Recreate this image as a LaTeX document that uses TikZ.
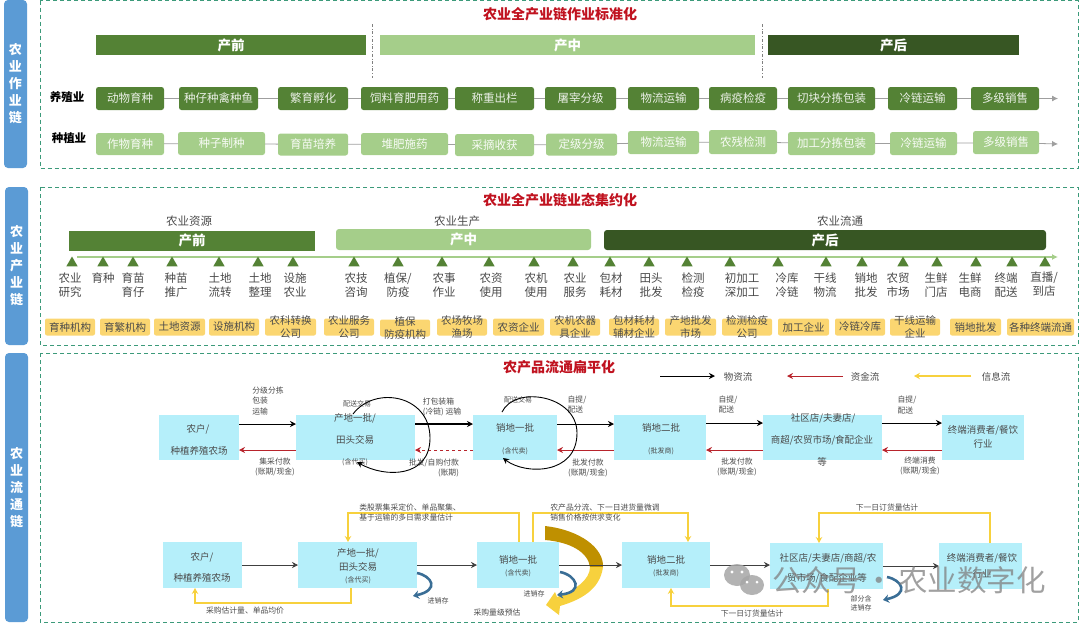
\documentclass[tikz,border=0pt]{standalone}
\usepackage{fontspec}
\setmainfont{Noto Sans CJK SC}
\usetikzlibrary{arrows.meta,shapes.geometric}
\definecolor{sidebar}{HTML}{5B9BD5}
\definecolor{framegreen}{HTML}{3C9A7A}
\definecolor{darkgreen}{HTML}{548235}
\definecolor{deepgreen}{HTML}{375623}
\definecolor{lightgreen}{HTML}{A5CE8A}
\definecolor{boxyellow}{HTML}{FBD671}
\definecolor{boxcyan}{HTML}{B5EFFA}
\definecolor{titlered}{HTML}{C0121F}
\definecolor{moneyred}{HTML}{B8242C}
\definecolor{infoyellow}{HTML}{F7D13D}
\definecolor{swooshgold}{HTML}{BF9000}
\definecolor{swirlblue}{HTML}{3A6E96}
\definecolor{inktext}{HTML}{4A4A4A}
\tikzset{
  sidebox/.style={draw=none,fill=sidebar,rounded corners=4pt,minimum width=23,inner sep=0,outer sep=0,text=white,align=center,font=\bfseries\fontsize{13}{17}\selectfont},
  frame/.style={draw=framegreen,dash pattern=on 4pt off 3pt,line width=0.8pt},
  bigtitle/.style={text=titlered,font=\bfseries\fontsize{14}{16}\selectfont,inner sep=0},
  stagebar/.style={text=white,inner sep=0,outer sep=0,font=\bfseries\fontsize{13.5}{15}\selectfont},
  rowa/.style={fill=darkgreen,rounded corners=2.5pt,minimum height=23,inner sep=0,outer sep=0,text=white!88!darkgreen,font=\fontsize{11.5}{13}\selectfont},
  rowb/.style={fill=lightgreen,rounded corners=2.5pt,minimum height=22,inner sep=0,outer sep=0,text=white!92!lightgreen,font=\fontsize{11.5}{13}\selectfont},
  rowname/.style={inner sep=0,font=\bfseries\fontsize{11.5}{13}\selectfont},
  rowlink/.style={draw=gray!75,line width=0.8pt},
  secname/.style={inner sep=0,text=inktext,font=\fontsize{11.5}{13}\selectfont},
  tri/.style={regular polygon,regular polygon sides=3,fill=darkgreen,minimum size=13,inner sep=0},
  itemlab/.style={inner sep=0,align=center,text=inktext,font=\fontsize{11.5}{14}\selectfont},
  yellowbox/.style={fill=boxyellow,rounded corners=2pt,minimum height=17,inner sep=0,outer sep=0},
  yellowlab/.style={inner sep=0,align=center,text=inktext,font=\fontsize{10.5}{13}\selectfont},
  cyanbox/.style={fill=boxcyan,minimum height=45,inner sep=0,outer sep=0},
  boxtext/.style={inner sep=0,align=center,text=inktext,font=\fontsize{9.5}{11}\selectfont},
  smalltext/.style={inner sep=0,align=left,text=inktext,font=\fontsize{7.8}{10.5}\selectfont},
  tinytext/.style={inner sep=0,align=center,text=inktext,font=\fontsize{7}{9}\selectfont},
  matflow/.style={draw=black,line width=1pt,-{Stealth[length=6pt,width=6pt]}},
  thinflow/.style={draw=black!75,line width=0.7pt,-{Stealth[length=6pt,width=6pt]}},
  moneyflow/.style={draw=moneyred,line width=1pt,-{Stealth[length=6pt,width=6pt]}},
  infoflow/.style={draw=infoyellow,line width=1.7pt,-{Stealth[length=6pt,width=6.5pt]}},
  loopflow/.style={draw=black,line width=0.9pt,-{Stealth[length=6pt,width=6pt]}},
  swirl/.style={draw=swirlblue,line width=2.6pt,-{Stealth[length=6pt,width=8.5pt]}}
}
\begin{document}
\begin{tikzpicture}[x=1pt,y=-1pt]
\useasboundingbox (0,0) rectangle (1080,625);
\node[sidebox,minimum height=168] (sidea) at (15.5,84) {农\\业\\作\\业\\链};
\node[sidebox,minimum height=158] (sideb) at (16.5,266) {农\\业\\产\\业\\链};
\node[sidebox,minimum height=269] (sidec) at (16.5,487.5) {农\\业\\流\\通\\链};
\draw[frame] (40,0.5) rectangle (1078,168);
\draw[frame] (40,187) rectangle (1078,345);
\draw[frame] (40,353) rectangle (1078,622);

\node[bigtitle] (titlea) at (560,14) {农业全产业链作业标准化};
\node[stagebar,fill=darkgreen,minimum width=270,minimum height=20] (prea) at (231,45) {产前};
\node[stagebar,fill=lightgreen,minimum width=375,minimum height=20] (mida) at (567.5,45) {产中};
\node[stagebar,fill=deepgreen,minimum width=251,minimum height=20] (posta) at (893.5,45) {产后};
\coordinate (cuta1) at (372,24);
\coordinate (cuta2) at (372,78);
\coordinate (cutb1) at (762,24);
\coordinate (cutb2) at (762,78);
\draw[gray,dash dot,line width=0.6pt] (cuta1) -- (cuta2);
\draw[gray,dash dot,line width=0.6pt] (cutb1) -- (cutb2);
\node[rowname] (namea) at (67,97) {养殖业};
\node[rowname] (nameb) at (69,138) {种植业};
\node[rowa,minimum width=68] (a1) at (130,98.5) {动物育种};
\node[rowa,minimum width=79] (a2) at (218.5,98.5) {种仔种禽种鱼};
\node[rowa,minimum width=70] (a3) at (313,98.5) {繁育孵化};
\node[rowa,minimum width=87] (a4) at (404.5,98.5) {饲料育肥用药};
\node[rowa,minimum width=79] (a5) at (494.5,98.5) {称重出栏};
\node[rowa,minimum width=71] (a6) at (580.5,98.5) {屠宰分级};
\node[rowa,minimum width=71] (a7) at (663.5,98.5) {物流运输};
\node[rowa,minimum width=68] (a8) at (743,98.5) {病疫检疫};
\node[rowa,minimum width=87] (a9) at (831.5,98.5) {切块分拣包装};
\node[rowa,minimum width=69] (a10) at (922.5,98.5) {冷链运输};
\node[rowa,minimum width=68] (a11) at (1005,98.5) {多级销售};
\coordinate (aend) at (1058,98.5);
\draw[rowlink,-{Latex[length=6pt,width=6pt]}] (a1) -- (a2) -- (a3) -- (a4) -- (a5) -- (a6) -- (a7) -- (a8) -- (a9) -- (a10) -- (a11) -- (aend);
\node[rowb,minimum width=68] (b1) at (130,144) {作物育种};
\node[rowb,minimum width=87,minimum height=23] (b2) at (221.5,143.5) {种子制种};
\node[rowb,minimum width=70] (b3) at (313,144.5) {育苗培养};
\node[rowb,minimum width=87] (b4) at (404.5,144) {堆肥施药};
\node[rowb,minimum width=79] (b5) at (494.5,145) {采摘收获};
\node[rowb,minimum width=71] (b6) at (581.5,144.5) {定级分级};
\node[rowb,minimum width=71,minimum height=23] (b7) at (663.5,142.5) {物流运输};
\node[rowb,minimum width=68,minimum height=24] (b8) at (743,142) {农残检测};
\node[rowb,minimum width=87,minimum height=23] (b9) at (831.5,143.5) {加工分拣包装};
\node[rowb,minimum width=67,minimum height=23] (b10) at (923.5,143.5) {冷链运输};
\node[rowb,minimum width=66,minimum height=23] (b11) at (1006,142.5) {多级销售};
\coordinate (bend) at (1058,144);
\draw[rowlink,-{Latex[length=6pt,width=6pt]}] (b1) -- (b2) -- (b3) -- (b4) -- (b5) -- (b6) -- (b7) -- (b8) -- (b9) -- (b10) -- (b11) -- (bend);

\node[bigtitle] (titleb) at (560,200) {农业全产业链业态集约化};
\node[secname] (seca) at (189,221) {农业资源};
\node[secname] (secb) at (457,221) {农业生产};
\node[secname] (secc) at (840,221) {农业流通};
\node[stagebar,fill=darkgreen,minimum width=246,minimum height=20] (preb) at (192,240.5) {产前};
\node[stagebar,fill=lightgreen,rounded corners=3pt,minimum width=255,minimum height=21] (midb) at (463.5,239.5) {产中};
\node[stagebar,fill=deepgreen,rounded corners=3pt,minimum width=442,minimum height=20] (postb) at (825,240) {产后};
\coordinate (linea) at (77,257);
\coordinate (lineb) at (1058,257);
\draw[draw=lightgreen,line width=1.5pt,-{Latex[length=6pt,width=6pt]}] (linea) -- (lineb);
\node[tri] (t1) at (72,263) {};
\node[tri] (t2) at (103,263) {};
\node[tri] (t3) at (133,263) {};
\node[tri] (t4) at (172,263) {};
\node[tri] (t5) at (219,263) {};
\node[tri] (t6) at (258,263) {};
\node[tri] (t7) at (293,263) {};
\node[tri] (t8) at (354,263) {};
\node[tri] (t9) at (398,263) {};
\node[tri] (t10) at (442,263) {};
\node[tri] (t11) at (489,263) {};
\node[tri] (t12) at (534,263) {};
\node[tri] (t13) at (573,263) {};
\node[tri] (t14) at (610,263) {};
\node[tri] (t15) at (649,263) {};
\node[tri] (t16) at (687,263) {};
\node[tri] (t17) at (730,263) {};
\node[tri] (t18) at (778,263) {};
\node[tri] (t19) at (826,263) {};
\node[tri] (t20) at (862,263) {};
\node[tri] (t21) at (903,263) {};
\node[tri] (t22) at (937,263) {};
\node[tri] (t23) at (976,263) {};
\node[tri] (t24) at (1012,263) {};
\node[tri] (t25) at (1045,263) {};
\node[itemlab] (l1) at (70,285) {农业\\研究};
\node[itemlab] (l2) at (103,278) {育种};
\node[itemlab] (l3) at (133,285) {育苗\\育仔};
\node[itemlab] (l4) at (176,285) {种苗\\推广};
\node[itemlab] (l5) at (220,285) {土地\\流转};
\node[itemlab] (l6) at (260,285) {土地\\整理};
\node[itemlab] (l7) at (295,285) {设施\\农业};
\node[itemlab] (l8) at (356,285) {农技\\咨询};
\node[itemlab] (l9) at (398,285) {植保/\\防疫};
\node[itemlab] (l10) at (444,285) {农事\\作业};
\node[itemlab] (l11) at (491,285) {农资\\使用};
\node[itemlab] (l12) at (536,285) {农机\\使用};
\node[itemlab] (l13) at (575,285) {农业\\服务};
\node[itemlab] (l14) at (611,285) {包材\\耗材};
\node[itemlab] (l15) at (651,285) {田头\\批发};
\node[itemlab] (l16) at (693,285) {检测\\检疫};
\node[itemlab] (l17) at (742,285) {初加工\\深加工};
\node[itemlab] (l18) at (787,285) {冷库\\冷链};
\node[itemlab] (l19) at (825,285) {干线\\物流};
\node[itemlab] (l20) at (866,285) {销地\\批发};
\node[itemlab] (l21) at (898,285) {农贸\\市场};
\node[itemlab] (l22) at (936,285) {生鲜\\门店};
\node[itemlab] (l23) at (970,285) {生鲜\\电商};
\node[itemlab] (l24) at (1006,285) {终端\\配送};
\node[itemlab] (l25) at (1044,284) {直播/\\到店};
\node[yellowbox,minimum width=50,label={[yellowlab]center:育种机构}] (y1) at (70,327) {};
\node[yellowbox,minimum width=50,label={[yellowlab]center:育繁机构}] (y2) at (125,327) {};
\node[yellowbox,minimum width=51,label={[yellowlab]center:土地资源}] (y3) at (179.5,327) {};
\node[yellowbox,minimum width=50,label={[yellowlab]center:设施机构}] (y4) at (234,327) {};
\node[yellowbox,minimum width=51,label={[yellowlab]center:农科转换\\公司}] (y5) at (290.5,327) {};
\node[yellowbox,minimum width=50,label={[yellowlab]center:农业服务\\公司}] (y6) at (349,327) {};
\node[yellowbox,minimum width=50,label={[yellowlab]center:植保\\防疫机构}] (y7) at (405,328) {};
\node[yellowbox,minimum width=50,label={[yellowlab]center:农场牧场\\渔场}] (y8) at (462,327) {};
\node[yellowbox,minimum width=51,label={[yellowlab]center:农资企业}] (y9) at (518.5,327) {};
\node[yellowbox,minimum width=50,label={[yellowlab]center:农机农器\\具企业}] (y10) at (575,327) {};
\node[yellowbox,minimum width=50,label={[yellowlab]center:包材耗材\\辅材企业}] (y11) at (634,327) {};
\node[yellowbox,minimum width=51,label={[yellowlab]center:产地批发\\市场}] (y12) at (690.5,327) {};
\node[yellowbox,minimum width=50,label={[yellowlab]center:检测检疫\\公司}] (y13) at (747,327) {};
\node[yellowbox,minimum width=51,label={[yellowlab]center:加工企业}] (y14) at (803.5,327) {};
\node[yellowbox,minimum width=50,label={[yellowlab]center:冷链冷库}] (y15) at (860,327) {};
\node[yellowbox,minimum width=50,label={[yellowlab]center:干线运输\\企业}] (y16) at (915,327) {};
\node[yellowbox,minimum width=51,label={[yellowlab]center:销地批发}] (y17) at (975.5,327) {};
\node[yellowbox,minimum width=67,label={[yellowlab]center:各种终端流通}] (y18) at (1040.5,327) {};

\node[bigtitle] (titlec) at (559,367) {农产品流通扁平化};
\coordinate (mata) at (660,376);
\coordinate (matb) at (715,376);
\coordinate (mona) at (843,376);
\coordinate (monb) at (787,376);
\coordinate (infa) at (971,376);
\coordinate (infb) at (914,376);
\draw[matflow] (mata) -- (matb);
\draw[moneyflow] (mona) -- (monb);
\draw[infoflow] (infa) -- (infb);
\node[boxtext] (matname) at (738,377) {物资流};
\node[boxtext] (monname) at (865,377) {资金流};
\node[boxtext] (infname) at (996,377) {信息流};

\node[cyanbox,minimum width=80] (tfarm) at (199,437.5) {};
\node[cyanbox,minimum width=119] (tprod) at (355.5,437.5) {};
\node[cyanbox,minimum width=84] (tsale) at (515,437.5) {};
\node[cyanbox,minimum width=92] (tsec) at (660,437.5) {};
\node[cyanbox,minimum width=119] (tshop) at (822.5,437.5) {};
\node[cyanbox,minimum width=82] (tend) at (983,437.5) {};
\draw[matflow] ([yshift=13.5pt]tfarm.east) -- ([yshift=13.5pt]tprod.west);
\draw[matflow,line width=1.3pt] ([yshift=13.5pt]tprod.east) -- ([yshift=13.5pt]tsale.west);
\draw[matflow] ([yshift=13.5pt]tsale.east) -- ([yshift=13.5pt]tsec.west);
\draw[matflow] ([yshift=14.5pt]tsec.east) -- ([yshift=14.5pt]tshop.west);
\draw[matflow] ([yshift=14.5pt]tshop.east) -- ([yshift=14.5pt]tend.west);
\draw[moneyflow] ([yshift=-12.5pt]tprod.west) -- ([yshift=-12.5pt]tfarm.east);
\draw[moneyflow,dashed] ([yshift=-12.5pt]tsale.west) -- ([yshift=-12.5pt]tprod.east);
\draw[moneyflow] ([yshift=-12.5pt]tsec.west) -- ([yshift=-12.5pt]tsale.east);
\draw[moneyflow] ([yshift=-12.5pt]tshop.west) -- ([yshift=-12.5pt]tsec.east);
\draw[moneyflow] ([yshift=-12.5pt]tend.west) -- ([yshift=-12.5pt]tshop.east);
\node[boxtext] (tfarm1) at (198,429) {农户/};
\node[boxtext] (tfarm2) at (199,451) {种植养殖农场};
\node[boxtext] (tprod1) at (355,418) {产地一批/};
\node[boxtext] (tprod2) at (355,440) {田头交易};
\node[tinytext] (tprod3) at (355,462) {(含代买)};
\node[boxtext] (tsale1) at (515,428) {销地一批};
\node[tinytext] (tsale2) at (515,451) {(含代卖)};
\node[boxtext] (tsec1) at (661,428) {销地二批};
\node[tinytext] (tsec2) at (661,451) {(批发商)};
\node[boxtext] (tshop1) at (823,418) {社区店/夫妻店/};
\node[boxtext] (tshop2) at (822,440) {商超/农贸市场/食配企业};
\node[boxtext] (tshop3) at (822,462) {等};
\node[boxtext,align=center] (tend1) at (983,437) {终端消费者/餐饮\\[3pt]行业};
\node[smalltext] (carrya) at (268,401) {分级分拣\\包装\\运输};
\node[smalltext] (carryb) at (442,407) {打包装箱\\(冷链) 运输};
\node[smalltext] (carryc) at (577,404.5) {自提/\\配送};
\node[smalltext] (carryd) at (728,404.5) {自提/\\配送};
\node[smalltext] (carrye) at (907,405) {自提/\\配送};
\node[smalltext,align=center] (paya) at (275,467) {集采付款\\(账期/现金)};
\node[smalltext,align=right] (payb) at (434,468) {批发/自购付款\\(账期)};
\node[smalltext,align=center] (payc) at (588,468) {批发付款\\(账期/现金)};
\node[smalltext,align=center] (payd) at (737,467) {批发付款\\(账期/现金)};
\node[smalltext,align=center] (paye) at (920,466) {终端消费\\(账期/现金)};
\node[tinytext] (dealb) at (357,404) {配送交易};
\node[tinytext] (dealc) at (518,400) {配送交易};
\coordinate (loopa1) at (353,414);
\coordinate (loopa2) at (357,462);
\coordinate (loopb1) at (502,412);
\coordinate (loopb2) at (503,458);
\draw[loopflow] (loopa1) .. controls (375,385) and (430,395) .. (430,438) .. controls (430,478) and (385,478) .. (loopa2);
\draw[loopflow] (loopb1) .. controls (515,385) and (577,395) .. (577,433) .. controls (577,475) and (525,475) .. (loopb2);

\fill[fill=swooshgold] (545,526) .. controls (580,530) and (604,548) .. (603,567) -- (590,567) .. controls (588,552) and (570,542) .. (545,540) -- cycle;
\fill[fill=infoyellow] (603,567) .. controls (600,590) and (580,600) .. (560,606) -- (559,615) -- (546,605) -- (555,592) -- (557,597) .. controls (575,590) and (590,580) .. (590,567) -- cycle;
\node[cyanbox,minimum width=79,minimum height=46] (bfarm) at (202.5,565) {};
\node[cyanbox,minimum width=119,minimum height=46] (bprod) at (357.5,565) {};
\node[cyanbox,minimum width=82,minimum height=46] (bsale) at (518,565) {};
\node[cyanbox,minimum width=88,minimum height=46] (bsec) at (666,565) {};
\node[cyanbox,minimum width=113,minimum height=46] (bshop) at (826.5,566) {};
\node[cyanbox,minimum width=83,minimum height=46] (bend) at (980.5,566) {};
\draw[thinflow] (bfarm) -- (bprod);
\draw[thinflow] (bprod) -- (bsale);
\draw[thinflow] (bsale) -- (bsec);
\draw[thinflow] (bsec.east) -- (bsec.east -| bshop.west);
\draw[thinflow] (bshop.east |- bend.west) -- (bend.west);
\draw[infoflow] ([xshift=-6.5pt]bprod.south) -- ++(0,15) -| ([xshift=-7.5pt]bfarm.south);
\draw[infoflow] ([xshift=1pt]bsale.north) -- ++(0,-29) -| ([xshift=-9.5pt]bprod.north);
\draw[infoflow] ([xshift=15pt]bsale.north) -- ++(0,-29) -| ([xshift=22pt]bsec.north);
\draw[infoflow] ([xshift=1.5pt]bshop.south) -- ++(0,17) -| ([xshift=5pt]bsec.south);
\draw[infoflow] ([xshift=9.5pt]bend.north) -- ++(0,-30) -| ([xshift=-7.5pt]bshop.north);
\node[boxtext] (bfarm1) at (202,557) {农户/};
\node[boxtext] (bfarm2) at (202,578) {种植养殖农场};
\node[boxtext] (bprod1) at (358,553) {产地一批/};
\node[boxtext] (bprod2) at (358,567) {田头交易};
\node[tinytext] (bprod3) at (358,580) {(含代买)};
\node[boxtext] (bsale1) at (518,560) {销地一批};
\node[tinytext] (bsale2) at (518,573) {(含代卖)};
\node[boxtext] (bsec1) at (666,560) {销地二批};
\node[tinytext] (bsec2) at (666,573) {(批发商)};
\node[boxtext] (bshop1) at (828,558) {社区店/夫妻店/商超/农};
\node[boxtext] (bshop2) at (827,578) {贸市场/食配企业等};
\node[boxtext] (bend1) at (982,558) {终端消费者/餐饮};
\node[boxtext] (bend2) at (982,574) {行业};
\node[smalltext] (noteb) at (410,512.5) {类股票集采定价、单品聚集、\\基于运输的多日需求量估计};
\node[smalltext] (notec) at (605,512.5) {农产品分流、下一日进货量微调\\销售价格按供求变化};
\node[smalltext] (notea) at (245,611) {采购估计量、单品均价};
\node[smalltext] (noted) at (752,614) {下一日订货量估计};
\node[smalltext] (notee) at (887,508) {下一日订货量估计};
\node[smalltext] (notef) at (497,613) {采购量级预估};
\coordinate (swa1) at (417,573);
\coordinate (swa2) at (413,596);
\coordinate (swb1) at (560,572);
\coordinate (swb2) at (557,595);
\coordinate (swc1) at (887,577);
\coordinate (swc2) at (883,600);
\draw[swirl] (swa1) .. controls (432,576) and (440,590) .. (swa2);
\draw[swirl] (swb1) .. controls (576,575) and (585,592) .. (swb2);
\draw[swirl] (swc1) .. controls (902,580) and (910,594) .. (swc2);
\node[tinytext] (stocka) at (438,601) {进销存};
\node[tinytext] (stockb) at (534,594) {进销存};
\node[tinytext] (stockc) at (861,603.5) {部分含\\进销存};

\fill[fill=gray!70,opacity=0.85] (737,575) ellipse (13 and 11);
\fill[fill=gray!70,opacity=0.85] (752,585) ellipse (12 and 10);
\fill[fill=white] (732,572) circle (1.6) (742,572) circle (1.6) (747,582) circle (1.5) (757,582) circle (1.5);
\node[inner sep=0,anchor=west,text=gray,opacity=0.75,font=\fontsize{29.5}{32}\selectfont] (mark) at (772,580) {公众号\hspace{4pt}·\hspace{4pt}农业数字化};
\end{tikzpicture}
\end{document}
